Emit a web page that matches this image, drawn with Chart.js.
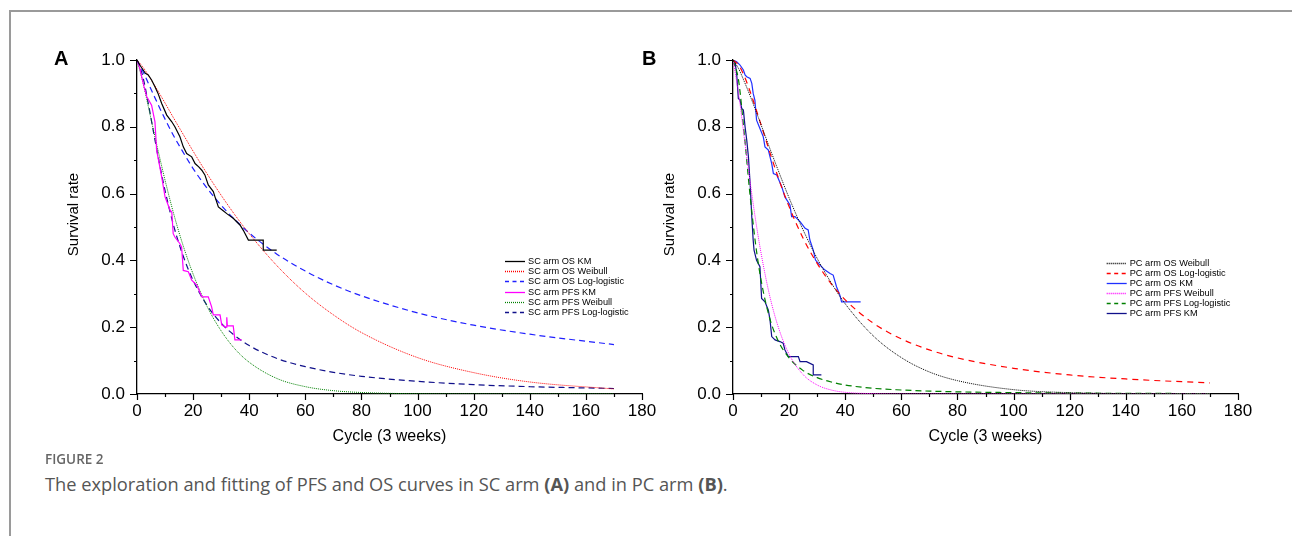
<!DOCTYPE html>
<html>
<head>
<meta charset="utf-8">
<script src="https://cdn.jsdelivr.net/npm/chart.js@4.4.1/dist/chart.umd.min.js"></script>
<style>
  html, body { margin: 0; padding: 0; background: #fff; width: 1292px; height: 536px; overflow: hidden; }
  #frame { position: absolute; left: 9px; top: 10px; width: 1300px; height: 540px; border-left: 2px solid #9a9a9a; border-top: 2px solid #9a9a9a; }
  canvas { position: absolute; }
  .panel { position: absolute; font-family: "Liberation Sans", Arial, sans-serif; font-weight: bold; font-size: 20px; color: #000; }
  #figno { position: absolute; left: 45px; top: 450px; font-family: "Open Sans", sans-serif; font-weight: 600; font-size: 13.5px; color: #666; }
  #caption { position: absolute; left: 45px; top: 471px; font-family: "Open Sans", sans-serif; font-size: 18.25px; color: #555; white-space: nowrap; }
  #caption b { font-weight: 700; }
</style>
</head>
<body>
<div id="frame"></div>
<canvas id="chartA" width="632" height="430" style="left:40px;top:30px;width:632px;height:430px"></canvas>
<canvas id="chartB" width="632" height="430" style="left:636px;top:30px;width:632px;height:430px"></canvas>
<div class="panel" style="left:54px;top:47px">A</div>
<div class="panel" style="left:642px;top:47px">B</div>
<div id="figno">FIGURE 2</div>
<div id="caption">The exploration and fitting of PFS and OS curves in SC arm <b>(A)</b> and in PC arm <b>(B)</b>.</div>
<script>
// ---------- data ----------
const fitCycles = [0, 2, 4, 6, 8, 10, 13, 16, 20, 25, 30, 35, 40, 50, 60, 70, 80, 100, 120, 140, 170];

// Panel A: SC arm
const scOsWeibull      = [1, 0.980, 0.955, 0.928, 0.900, 0.871, 0.827, 0.784, 0.727, 0.659, 0.595, 0.535, 0.480, 0.383, 0.302, 0.237, 0.184, 0.109, 0.064, 0.036, 0.015];
const scOsLogLogistic  = [1, 0.968, 0.931, 0.894, 0.858, 0.823, 0.774, 0.730, 0.675, 0.616, 0.565, 0.521, 0.482, 0.418, 0.368, 0.327, 0.294, 0.243, 0.206, 0.179, 0.148];
const scPfsWeibull     = [1, 0.937, 0.862, 0.785, 0.711, 0.640, 0.542, 0.456, 0.359, 0.262, 0.189, 0.134, 0.095, 0.046, 0.022, 0.010, 0.0045, 0.0008, 0.0002, 0, 0];
const scPfsLogLogistic = [1, 0.953, 0.871, 0.779, 0.690, 0.609, 0.506, 0.424, 0.340, 0.265, 0.212, 0.174, 0.145, 0.106, 0.082, 0.065, 0.053, 0.038, 0.028, 0.022, 0.0165];

const scOsKmCycles = [0, 1, 2.2, 3, 4, 5.2, 6.4, 7.5, 8.8, 10.6, 12.4, 13.5, 15.3, 16.5, 17.7, 19.5, 20.7, 22, 23.1, 24.2, 25.4, 27.2, 27.8, 29, 30.5, 32, 34.3, 36.7, 37.9, 39.7, 42.1, 45, 45, 49.8];
const scOsKmSurv   = [1, 0.985, 0.97, 0.96, 0.955, 0.94, 0.92, 0.9, 0.87, 0.835, 0.815, 0.80, 0.77, 0.74, 0.72, 0.71, 0.69, 0.68, 0.67, 0.656, 0.626, 0.606, 0.59, 0.56, 0.55, 0.54, 0.526, 0.506, 0.49, 0.461, 0.461, 0.461, 0.431, 0.431];

const scPfsKmCycles = [0, 1, 2.5, 3.5, 5.2, 6.4, 7, 8.8, 10, 11.8, 12.4, 12.9, 13.5, 15.3, 15.9, 16.5, 18.3, 19.5, 21.3, 23.1, 25.4, 26.6, 27.2, 29.6, 30.2, 31.4, 31.8, 32, 32.2, 34.3, 34.9, 37.3];
const scPfsKmSurv   = [1, 0.975, 0.92, 0.89, 0.865, 0.815, 0.73, 0.65, 0.59, 0.55, 0.545, 0.48, 0.47, 0.45, 0.44, 0.37, 0.366, 0.341, 0.326, 0.291, 0.291, 0.261, 0.237, 0.237, 0.207, 0.20, 0.20, 0.23, 0.204, 0.204, 0.162, 0.162];

// Panel B: PC arm
const pcOsWeibull      = [1, 0.974, 0.936, 0.895, 0.851, 0.806, 0.738, 0.672, 0.587, 0.491, 0.406, 0.333, 0.270, 0.174, 0.109, 0.066, 0.040, 0.013, 0.004, 0.0013, 0.0003];
const pcOsLogLogistic  = [1, 0.985, 0.952, 0.908, 0.858, 0.806, 0.727, 0.651, 0.561, 0.466, 0.391, 0.330, 0.282, 0.212, 0.165, 0.132, 0.108, 0.077, 0.057, 0.045, 0.033];
const pcPfsWeibull     = [1, 0.899, 0.769, 0.641, 0.524, 0.422, 0.297, 0.204, 0.119, 0.058, 0.027, 0.012, 0.005, 0.001, 0, 0, 0, 0, 0, 0, 0];
const pcPfsLogLogistic = [1, 0.938, 0.780, 0.602, 0.452, 0.341, 0.229, 0.161, 0.108, 0.070, 0.049, 0.036, 0.027, 0.017, 0.012, 0.0086, 0.0065, 0.0041, 0.0028, 0.002, 0.0013];

const pcOsKmCycles = [0, 1.3, 2.5, 3.7, 4.3, 4.9, 6.1, 6.7, 7.2, 7.8, 8.4, 9.6, 10.8, 11.4, 12.6, 13.8, 14.4, 15.6, 17.4, 18.5, 20.3, 20.9, 22.1, 23.9, 25.7, 26.8, 27.4, 28.6, 29.4, 31, 32.8, 34.6, 35.7, 36.9, 38.1, 38.7, 45.5];
const pcOsKmSurv   = [1, 0.995, 0.985, 0.97, 0.955, 0.95, 0.945, 0.93, 0.90, 0.88, 0.82, 0.795, 0.77, 0.74, 0.73, 0.69, 0.66, 0.656, 0.62, 0.59, 0.566, 0.531, 0.531, 0.516, 0.496, 0.491, 0.461, 0.431, 0.401, 0.386, 0.371, 0.361, 0.356, 0.321, 0.296, 0.276, 0.276];

const pcPfsKmCycles = [0, 0.7, 1.3, 1.9, 2.5, 3.1, 3.7, 4.3, 4.9, 5.5, 6.1, 6.7, 7.2, 7.5, 8.4, 9.6, 10.2, 11.4, 12.6, 13.2, 13.8, 15, 16.7, 17.9, 18.5, 19.7, 23.3, 23.9, 26.2, 28.6, 28.6, 31.5];
const pcPfsKmSurv   = [1, 0.995, 0.96, 0.885, 0.88, 0.855, 0.85, 0.80, 0.76, 0.71, 0.63, 0.53, 0.46, 0.431, 0.40, 0.381, 0.286, 0.276, 0.251, 0.221, 0.172, 0.162, 0.157, 0.152, 0.132, 0.112, 0.112, 0.097, 0.097, 0.087, 0.057, 0.057];

// axis ticks
const xTickValues = [0, 20, 40, 60, 80, 100, 120, 140, 160, 180];
const yTickLabels = ['0.0', '0.2', '0.4', '0.6', '0.8', '1.0'];
const xTitle = 'Cycle (3 weeks)';
const yTitle = 'Survival rate';

// ---------- helpers ----------
const pts = (xs, ys) => xs.map((x, i) => ({ x: x, y: ys[i] }));
const FONT = '"Liberation Sans", Arial, sans-serif';

function fitDs(label, ys, color, dash, width) {
  return { label, data: pts(fitCycles, ys), borderColor: color, borderDash: dash, borderWidth: width || 1,
           pointRadius: 0, cubicInterpolationMode: 'monotone', fill: false };
}
function kmDs(label, xs, ys, color, width) {
  return { label, data: pts(xs, ys), borderColor: color, borderDash: [], borderWidth: width || 1.2,
           pointRadius: 0, tension: 0, fill: false };
}

const axisTicks = {
  id: 'axisTicks',
  afterDraw(chart) {
    const ctx = chart.ctx, xs = chart.scales.x, ys = chart.scales.y;
    ctx.save();
    ctx.strokeStyle = '#000';
    ctx.lineWidth = 1.2;
    ctx.setLineDash([]);
    ctx.beginPath();
    for (let v = 0; v <= 180; v += 10) {
      const px = Math.round(xs.getPixelForValue(v)) + 0.5;
      const len = (v % 20 === 0) ? 6 : 3;
      ctx.moveTo(px, xs.top); ctx.lineTo(px, xs.top + len);
    }
    for (let i = 0; i <= 10; i++) {
      const py = Math.round(ys.getPixelForValue(i / 10)) + 0.5;
      const len = (i % 2 === 0) ? 7 : 3;
      ctx.moveTo(ys.right, py); ctx.lineTo(ys.right - len, py);
    }
    ctx.stroke();
    ctx.restore();
  }
};

const panelLegend = {
  id: 'panelLegend',
  afterDraw(chart, args, opts) {
    const ctx = chart.ctx;
    ctx.save();
    ctx.font = '9.2px ' + FONT;
    ctx.textBaseline = 'middle';
    ctx.textAlign = 'left';
    chart.data.datasets.forEach((ds, i) => {
      const y = Math.round(opts.y + i * opts.step) + 0.5;
      const dash = (ds.borderDash && ds.borderDash.length && ds.borderDash[0] > 2) ? [4, 3.5] : (ds.borderDash || []);
      ctx.beginPath();
      ctx.strokeStyle = ds.borderColor;
      ctx.lineWidth = 1.3;
      ctx.setLineDash(dash);
      ctx.moveTo(opts.x, y); ctx.lineTo(opts.x + opts.len, y);
      ctx.stroke();
      ctx.setLineDash([]);
      ctx.fillStyle = '#000';
      ctx.fillText(ds.label, opts.x + opts.len + 3, y);
    });
    ctx.restore();
  }
};

function makeOptions(legendOpts) {
  return {
    responsive: false,
    animation: false,
    layout: { padding: { top: 30, right: 30, left: 0, bottom: 0 } },
    plugins: { legend: { display: false }, tooltip: { enabled: false }, panelLegend: legendOpts },
    scales: {
      x: {
        type: 'linear', min: 0, max: 180,
        afterFit: s => { s.height = 66; },
        afterBuildTicks: s => { s.ticks = xTickValues.map(v => ({ value: v })); },
        ticks: { color: '#000', font: { family: FONT, size: 17 }, padding: 7, maxRotation: 0, autoSkip: false,
                 callback: v => String(v) },
        grid: { display: true, drawOnChartArea: false, drawTicks: false },
        border: { display: true, color: '#000', width: 1.3 },
        title: { display: true, text: xTitle, color: '#000', font: { family: FONT, size: 16 }, padding: { top: 0, bottom: 14 } }
      },
      y: {
        type: 'linear', min: 0, max: 1,
        afterFit: s => { s.width = 97; },
        afterBuildTicks: s => { s.ticks = yTickLabels.map(t => ({ value: parseFloat(t) })); },
        ticks: { color: '#000', font: { family: FONT, size: 17 }, padding: 12, autoSkip: false,
                 callback: (v, i) => yTickLabels[i] },
        grid: { display: true, drawOnChartArea: false, drawTicks: false },
        border: { display: true, color: '#000', width: 1.3 },
        title: { display: true, text: '      ' + yTitle, color: '#000', font: { family: FONT, size: 15 }, padding: { top: 25, bottom: 0 } }
      }
    }
  };
}

new Chart(document.getElementById('chartA'), {
  type: 'line',
  data: { datasets: [
    kmDs('SC arm OS KM', scOsKmCycles, scOsKmSurv, '#000000', 1.2),
    fitDs('SC arm OS Weibull', scOsWeibull, '#ff0000', [1, 1], 1),
    fitDs('SC arm OS Log-logistic', scOsLogLogistic, '#2020ff', [6, 4], 1.2),
    kmDs('SC arm PFS KM', scPfsKmCycles, scPfsKmSurv, '#ff00ff', 1.2),
    fitDs('SC arm PFS Weibull', scPfsWeibull, '#008000', [1, 1], 1),
    fitDs('SC arm PFS Log-logistic', scPfsLogLogistic, '#10108a', [6, 4], 1.2)
  ] },
  options: makeOptions({ x: 465, y: 231, step: 10.2, len: 20 }),
  plugins: [axisTicks, panelLegend]
});

new Chart(document.getElementById('chartB'), {
  type: 'line',
  data: { datasets: [
    fitDs('PC arm OS Weibull', pcOsWeibull, '#000000', [1, 1], 1),
    fitDs('PC arm OS Log-logistic', pcOsLogLogistic, '#ff0000', [6, 5], 1.2),
    kmDs('PC arm OS KM', pcOsKmCycles, pcOsKmSurv, '#2030ff', 1.2),
    fitDs('PC arm PFS Weibull', pcPfsWeibull, '#ff00ff', [1, 1], 1),
    fitDs('PC arm PFS Log-logistic', pcPfsLogLogistic, '#008000', [6, 4], 1.2),
    kmDs('PC arm PFS KM', pcPfsKmCycles, pcPfsKmSurv, '#10108a', 1.2)
  ] },
  options: makeOptions({ x: 470.7, y: 233.3, step: 10, len: 20 }),
  plugins: [axisTicks, panelLegend]
});
</script>
</body>
</html>
